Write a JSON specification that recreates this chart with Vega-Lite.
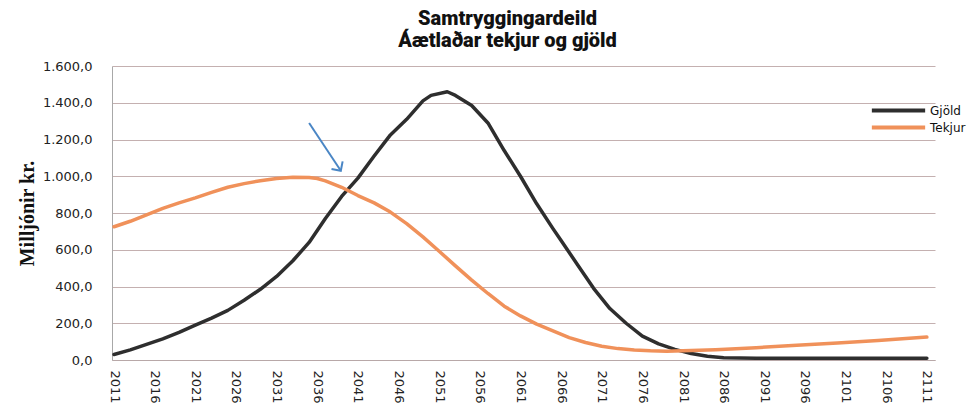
{
  "$schema": "https://vega.github.io/schema/vega-lite/v6.json",
  "width": 823,
  "height": 294,
  "autosize": {"type": "none"},
  "padding": {"left": 112, "top": 66, "right": 34, "bottom": 45},
  "background": "white",
  "config": {
    "locale": {"number": {"decimal": ",", "thousands": ".", "grouping": [3], "currency": ["", " kr."]}},
    "view": {"stroke": null},
    "font": "DejaVu Sans"
  },
  "title": {
    "text": "Samtryggingardeild",
    "subtitle": "Áætlaðar tekjur og gjöld",
    "font": "Roboto",
    "fontSize": 20,
    "fontWeight": 900,
    "color": "#111111",
    "subtitleFont": "Roboto",
    "subtitleFontSize": 20,
    "subtitleFontWeight": 900,
    "subtitleColor": "#111111",
    "subtitlePadding": 2,
    "anchor": "middle",
    "frame": "group",
    "dx": -16,
    "offset": 9
  },
  "datasets": {
    "series": [
      {"year": 2011, "serie": "Gjöld", "value": 30},
      {"year": 2013, "serie": "Gjöld", "value": 55},
      {"year": 2015, "serie": "Gjöld", "value": 85},
      {"year": 2017, "serie": "Gjöld", "value": 115},
      {"year": 2019, "serie": "Gjöld", "value": 150},
      {"year": 2021, "serie": "Gjöld", "value": 190},
      {"year": 2023, "serie": "Gjöld", "value": 228},
      {"year": 2025, "serie": "Gjöld", "value": 270},
      {"year": 2027, "serie": "Gjöld", "value": 325},
      {"year": 2029, "serie": "Gjöld", "value": 385},
      {"year": 2031, "serie": "Gjöld", "value": 455},
      {"year": 2033, "serie": "Gjöld", "value": 540},
      {"year": 2035, "serie": "Gjöld", "value": 640},
      {"year": 2037, "serie": "Gjöld", "value": 770},
      {"year": 2039, "serie": "Gjöld", "value": 890},
      {"year": 2041, "serie": "Gjöld", "value": 990},
      {"year": 2043, "serie": "Gjöld", "value": 1110},
      {"year": 2045, "serie": "Gjöld", "value": 1225},
      {"year": 2047, "serie": "Gjöld", "value": 1310},
      {"year": 2049, "serie": "Gjöld", "value": 1410},
      {"year": 2050, "serie": "Gjöld", "value": 1440},
      {"year": 2052, "serie": "Gjöld", "value": 1460},
      {"year": 2053, "serie": "Gjöld", "value": 1440},
      {"year": 2055, "serie": "Gjöld", "value": 1385},
      {"year": 2057, "serie": "Gjöld", "value": 1290},
      {"year": 2059, "serie": "Gjöld", "value": 1140},
      {"year": 2061, "serie": "Gjöld", "value": 1000},
      {"year": 2063, "serie": "Gjöld", "value": 850},
      {"year": 2065, "serie": "Gjöld", "value": 715},
      {"year": 2066, "serie": "Gjöld", "value": 650},
      {"year": 2068, "serie": "Gjöld", "value": 520},
      {"year": 2070, "serie": "Gjöld", "value": 390},
      {"year": 2072, "serie": "Gjöld", "value": 280},
      {"year": 2074, "serie": "Gjöld", "value": 200},
      {"year": 2076, "serie": "Gjöld", "value": 130},
      {"year": 2078, "serie": "Gjöld", "value": 88},
      {"year": 2080, "serie": "Gjöld", "value": 58},
      {"year": 2082, "serie": "Gjöld", "value": 35},
      {"year": 2084, "serie": "Gjöld", "value": 20},
      {"year": 2086, "serie": "Gjöld", "value": 12},
      {"year": 2090, "serie": "Gjöld", "value": 10},
      {"year": 2095, "serie": "Gjöld", "value": 10},
      {"year": 2100, "serie": "Gjöld", "value": 10},
      {"year": 2105, "serie": "Gjöld", "value": 10},
      {"year": 2111, "serie": "Gjöld", "value": 10},
      {"year": 2011, "serie": "Tekjur", "value": 725},
      {"year": 2013, "serie": "Tekjur", "value": 755},
      {"year": 2015, "serie": "Tekjur", "value": 790},
      {"year": 2017, "serie": "Tekjur", "value": 825},
      {"year": 2019, "serie": "Tekjur", "value": 855},
      {"year": 2021, "serie": "Tekjur", "value": 882},
      {"year": 2023, "serie": "Tekjur", "value": 912},
      {"year": 2025, "serie": "Tekjur", "value": 940},
      {"year": 2027, "serie": "Tekjur", "value": 960},
      {"year": 2029, "serie": "Tekjur", "value": 976},
      {"year": 2031, "serie": "Tekjur", "value": 988},
      {"year": 2033, "serie": "Tekjur", "value": 995},
      {"year": 2035, "serie": "Tekjur", "value": 993},
      {"year": 2036, "serie": "Tekjur", "value": 988},
      {"year": 2037, "serie": "Tekjur", "value": 975},
      {"year": 2039, "serie": "Tekjur", "value": 940},
      {"year": 2041, "serie": "Tekjur", "value": 895},
      {"year": 2043, "serie": "Tekjur", "value": 855},
      {"year": 2045, "serie": "Tekjur", "value": 805},
      {"year": 2047, "serie": "Tekjur", "value": 742},
      {"year": 2049, "serie": "Tekjur", "value": 670},
      {"year": 2051, "serie": "Tekjur", "value": 592},
      {"year": 2053, "serie": "Tekjur", "value": 512},
      {"year": 2055, "serie": "Tekjur", "value": 435},
      {"year": 2057, "serie": "Tekjur", "value": 362},
      {"year": 2059, "serie": "Tekjur", "value": 293},
      {"year": 2061, "serie": "Tekjur", "value": 240},
      {"year": 2063, "serie": "Tekjur", "value": 195},
      {"year": 2065, "serie": "Tekjur", "value": 158},
      {"year": 2067, "serie": "Tekjur", "value": 122},
      {"year": 2069, "serie": "Tekjur", "value": 95},
      {"year": 2071, "serie": "Tekjur", "value": 75},
      {"year": 2073, "serie": "Tekjur", "value": 62},
      {"year": 2075, "serie": "Tekjur", "value": 54},
      {"year": 2077, "serie": "Tekjur", "value": 50},
      {"year": 2079, "serie": "Tekjur", "value": 48},
      {"year": 2081, "serie": "Tekjur", "value": 50},
      {"year": 2085, "serie": "Tekjur", "value": 56},
      {"year": 2090, "serie": "Tekjur", "value": 67},
      {"year": 2095, "serie": "Tekjur", "value": 80},
      {"year": 2100, "serie": "Tekjur", "value": 93},
      {"year": 2105, "serie": "Tekjur", "value": 106},
      {"year": 2111, "serie": "Tekjur", "value": 125}
    ],
    "arrow": [
      {"x1": 2035.0, "y1": 1290, "x2": 2038.9, "y2": 1030}
    ]
  },
  "layer": [
    {
      "data": {"name": "series"},
      "mark": {"type": "line", "strokeWidth": 3.5, "strokeJoin": "round", "strokeCap": "round"},
      "encoding": {
        "x": {
          "field": "year",
          "type": "quantitative",
          "scale": {"domain": [2010.75, 2112], "nice": false, "zero": false},
          "axis": {
            "title": null,
            "values": [2011, 2016, 2021, 2026, 2031, 2036, 2041, 2046, 2051, 2056, 2061, 2066, 2071, 2076, 2081, 2086, 2091, 2096, 2101, 2106, 2111],
            "tickCount": 40,
            "format": "d",
            "labelAngle": 90,
            "labelFont": "DejaVu Sans",
            "labelFontSize": 13,
            "labelColor": "#222",
            "labelPadding": 10,
            "ticks": false,
            "grid": false,
            "domainColor": "#b8a8a8",
            "domainWidth": 1,
            "labelOverlap": false,
            "labelFlush": false
          }
        },
        "y": {
          "field": "value",
          "type": "quantitative",
          "scale": {"domain": [0, 1600], "nice": false},
          "axis": {
            "title": "Milljónir kr.",
            "titleFont": "Liberation Serif",
            "titleFontSize": 20,
            "titleFontWeight": "bold",
            "titleColor": "#111",
            "titleAngle": -90,
            "titleX": -85,
            "titleY": 147,
            "titleAlign": "center",
            "titleBaseline": "middle",
            "values": [0, 200, 400, 600, 800, 1000, 1200, 1400, 1600],
            "tickCount": 20,
            "format": ",.1f",
            "labelOverlap": false,
            "labelFont": "DejaVu Sans",
            "labelFontSize": 13,
            "labelColor": "#222",
            "labelPadding": 20,
            "ticks": false,
            "grid": true,
            "gridColor": "#c4b0b0",
            "gridWidth": 1,
            "domainColor": "#a8a8a8"
          }
        },
        "color": {
          "field": "serie",
          "type": "nominal",
          "scale": {"domain": ["Gjöld", "Tekjur"], "range": ["#2e2e2e", "#f0915a"]},
          "legend": {
            "title": null,
            "orient": "none",
            "legendX": 778,
            "legendY": 36,
            "symbolType": "M-4.1,0L4.1,0",
            "symbolSize": 169,
            "symbolStrokeWidth": 4,
            "labelFont": "DejaVu Sans",
            "labelFontSize": 12,
            "labelColor": "#111",
            "labelOffset": 23,
            "rowPadding": 0
          }
        }
      }
    },
    {
      "data": {"name": "arrow"},
      "mark": {"type": "rule", "color": "#4a86c5", "strokeWidth": 2},
      "encoding": {
        "x": {"field": "x1", "type": "quantitative"},
        "y": {"field": "y1", "type": "quantitative"},
        "x2": {"field": "x2"},
        "y2": {"field": "y2"}
      }
    },
    {
      "data": {"name": "arrow"},
      "mark": {"type": "point", "shape": "M-1,-1L0,0L1,-1", "filled": false, "color": "#4a86c5", "strokeWidth": 2, "size": 180, "angle": 326, "opacity": 1},
      "encoding": {
        "x": {"field": "x2", "type": "quantitative"},
        "y": {"field": "y2", "type": "quantitative"}
      }
    }
  ]
}
